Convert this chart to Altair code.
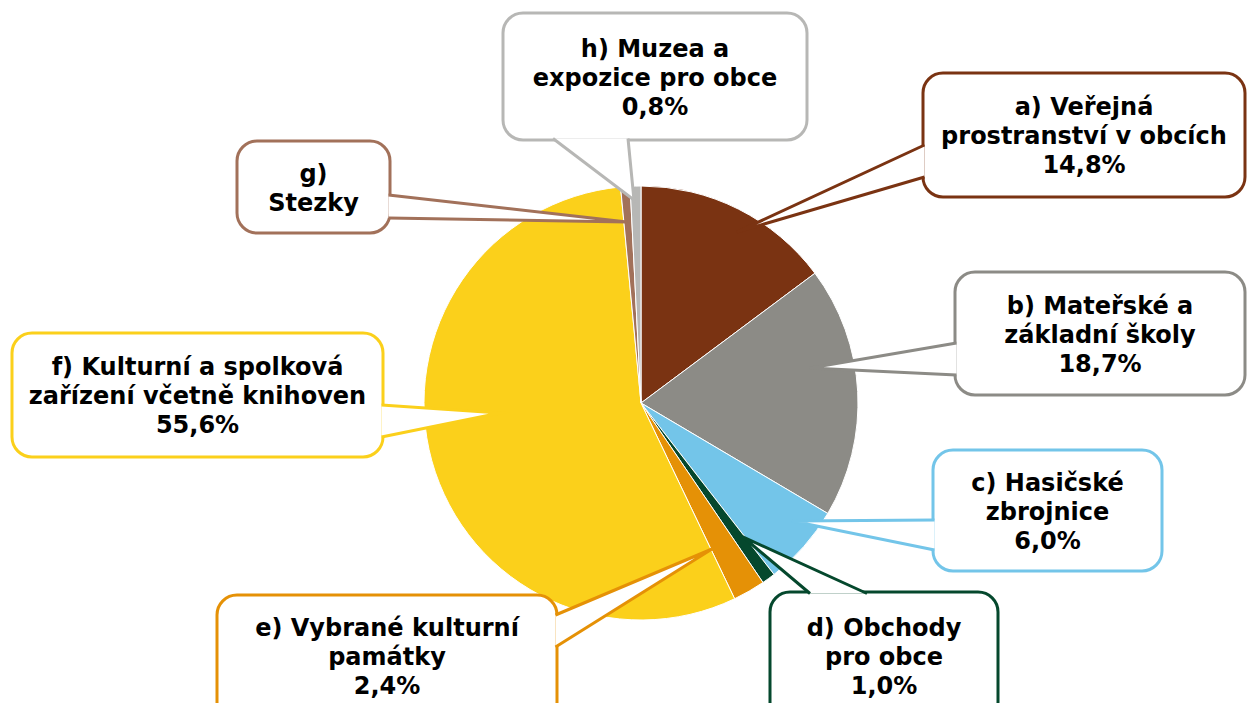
import altair as alt
import pandas as pd

# ---- data ----
codes = ["a", "b", "c", "d", "e", "f", "g", "h"]
names = [
    ["a) Veřejná", "prostranství v obcích"],
    ["b) Mateřské a", "základní školy"],
    ["c) Hasičské", "zbrojnice"],
    ["d) Obchody", "pro obce"],
    ["e) Vybrané kulturní", "památky"],
    ["f) Kulturní a spolková", "zařízení včetně knihoven"],
    ["g)", "Stezky"],
    ["h) Muzea a", "expozice pro obce"],
]
values = [14.8, 18.7, 6.0, 1.0, 2.4, 55.6, 0.7, 0.8]
show_pct = [True, True, True, True, True, True, False, True]

# ---- styles ----
palette = ["#7A3312", "#8C8B86", "#73C5E9", "#05482D",
           "#E59106", "#FBD01B", "#A2715A", "#B7B7B5"]
font_size = 24
line_height = 29

# ---- callout layout (image pixels): box x1, y1, x2, y2 ----
boxes = {
    "a": (923, 73, 1245, 197),
    "b": (955, 272, 1245, 395),
    "c": (933, 450, 1162, 571),
    "d": (770, 592, 998, 722),
    "e": (217, 595, 557, 722),
    "f": (12, 333, 383, 457),
    "g": (237, 141, 390, 233),
    "h": (503, 13, 807, 140),
}
text_mid_y = {"d": 658, "e": 658}
# pointer: base point 1, tip, base point 2
pointers = {
    "a": ((924.5, 145), (737, 232), (924.5, 177)),
    "b": ((956.5, 343), (810, 368), (956.5, 375)),
    "c": ((934.5, 520), (792, 521), (934.5, 550)),
    "d": ((810, 593.5), (743, 537), (867, 593.5)),
    "e": ((555.5, 615), (712, 549), (555.5, 647)),
    "f": ((381.5, 405), (500, 413), (381.5, 437)),
    "g": ((388.5, 195), (627, 222), (388.5, 218)),
    "h": ((553, 138.5), (634, 200), (628, 138.5)),
}
pie_center = (641, 403)
pie_radius = 217

# ---- tables ----
def pct(v):
    return f"{v:.1f}%".replace(".", ",")

pie_df = pd.DataFrame({"code": codes, "value": values, "idx": range(len(codes))})

box_rows, ptr_rows, txt_rows = [], [], []
for i, c in enumerate(codes):
    x1, y1, x2, y2 = boxes[c]
    box_rows.append({"code": c, "x1": x1, "y1": y1, "x2": x2, "y2": y2})
    for k, (px, py) in enumerate(pointers[c]):
        ptr_rows.append({"code": c, "k": k, "px": px, "py": py})
    lines = list(names[i]) + ([pct(values[i])] if show_pct[i] else [])
    mid = text_mid_y.get(c, (y1 + y2) / 2 + 2)
    txt_rows.append({"code": c, "label": "\n".join(lines),
                     "tx": (x1 + x2) / 2,
                     "ty": mid - (len(lines) - 1) * line_height / 2})

box_df = pd.DataFrame(box_rows)
ptr_df = pd.DataFrame(ptr_rows)
txt_df = pd.DataFrame(txt_rows)

xs = alt.Scale(domain=[8, 1247], nice=False, zero=False)
ys = alt.Scale(domain=[8, 703], reverse=True, nice=False, zero=False)
cs = alt.Scale(domain=codes, range=palette)

pie = alt.Chart(pie_df).mark_arc(radius=pie_radius, stroke="white", strokeWidth=1).encode(
    theta=alt.Theta("value:Q", stack=True),
    color=alt.Color("code:N", scale=cs, legend=None),
    order=alt.Order("idx:Q"),
    x=alt.X(datum=pie_center[0], type="quantitative", scale=xs, axis=None),
    y=alt.Y(datum=pie_center[1], type="quantitative", scale=ys, axis=None),
)

rects = alt.Chart(box_df).mark_rect(cornerRadius=20, fill="white", strokeWidth=3).encode(
    x=alt.X("x1:Q", scale=xs, axis=None),
    x2="x2:Q",
    y=alt.Y("y1:Q", scale=ys, axis=None),
    y2="y2:Q",
    stroke=alt.Stroke("code:N", scale=cs, legend=None),
)

wedges = alt.Chart(ptr_df).mark_line(fill="white", strokeWidth=3, strokeMiterLimit=8).encode(
    x=alt.X("px:Q", scale=xs, axis=None),
    y=alt.Y("py:Q", scale=ys, axis=None),
    detail="code:N",
    order=alt.Order("k:Q"),
    stroke=alt.Stroke("code:N", scale=cs, legend=None),
)

texts = alt.Chart(txt_df).mark_text(
    font="DejaVu Sans", fontWeight="bold", fontSize=font_size, lineBreak="\n",
    lineHeight=line_height, align="center", baseline="middle", color="black",
).encode(
    x=alt.X("tx:Q", scale=xs, axis=None),
    y=alt.Y("ty:Q", scale=ys, axis=None),
    text="label:N",
)

chart = alt.layer(pie, rects, wedges, texts).properties(
    width=1239, height=695,
    autosize=alt.AutoSizeParams(type="none"),
    padding=0,
).configure_view(strokeWidth=0)

chart.save("out.html", embed_options={"renderer": "svg", "actions": False})
